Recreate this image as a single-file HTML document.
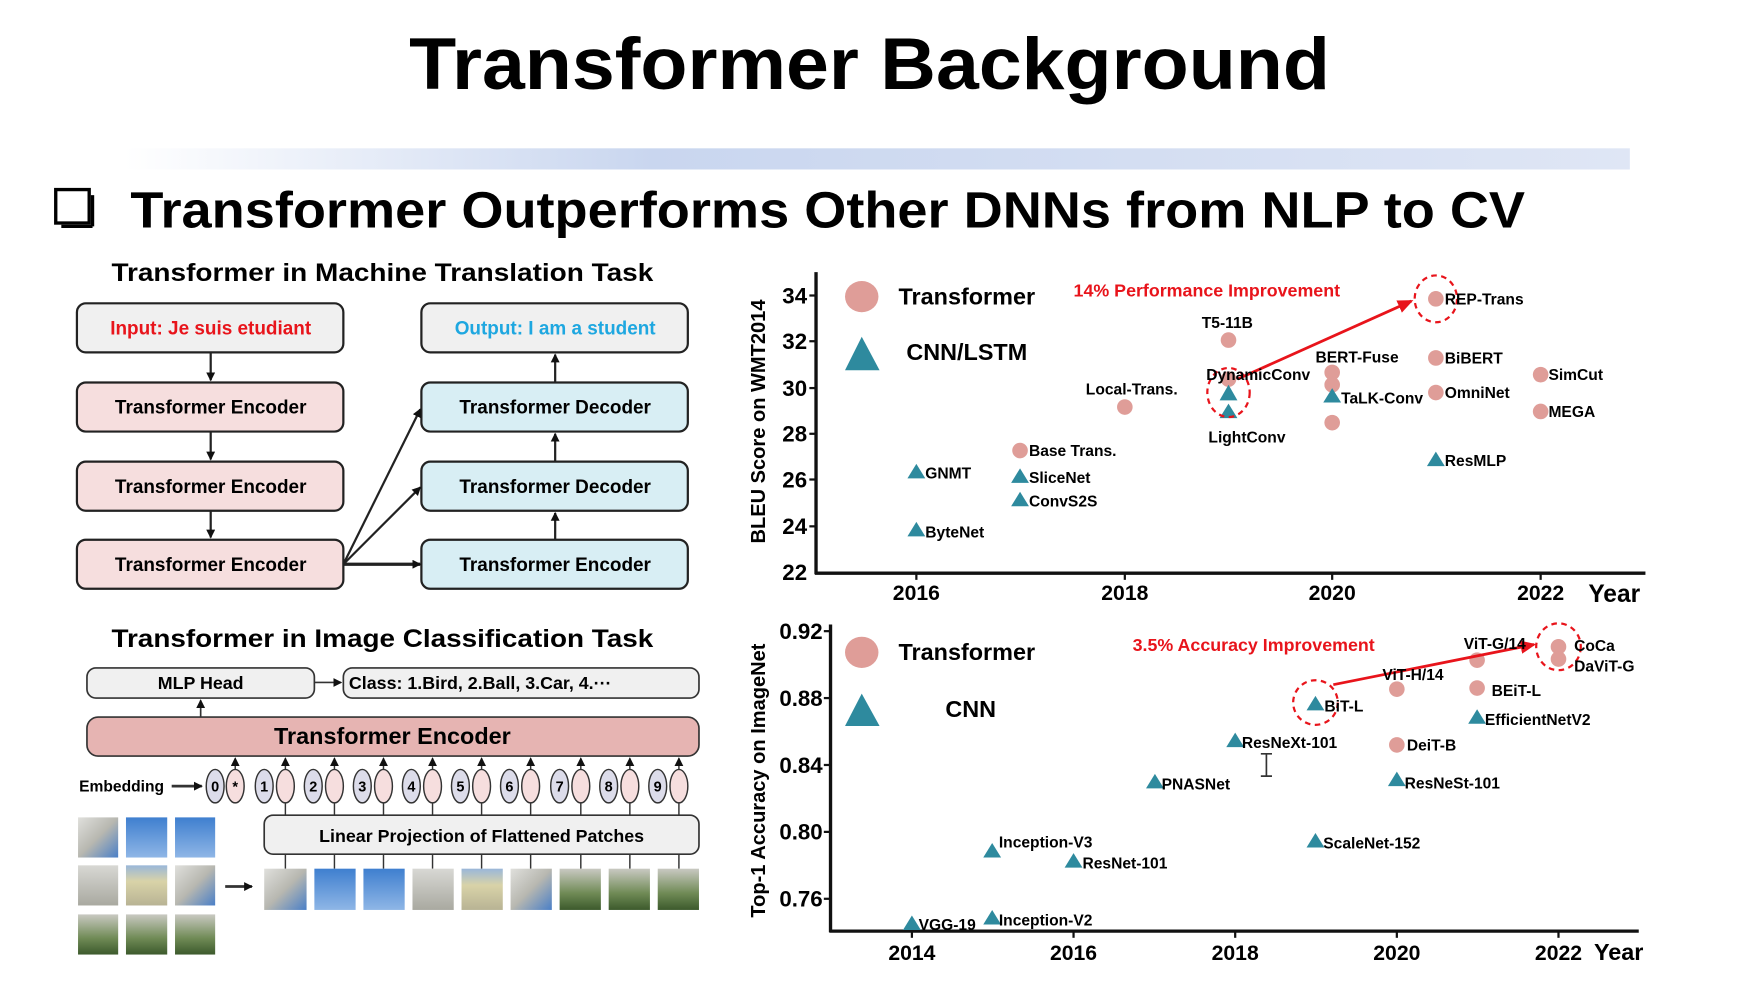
<!DOCTYPE html>
<html><head><meta charset="utf-8"><style>
html,body{margin:0;padding:0;background:#fff;}
svg{display:block;}
text{font-family:"Liberation Sans",sans-serif;font-weight:bold;}
</style></head><body>
<svg width="1748" height="988" viewBox="0 0 1568 886" preserveAspectRatio="none" xmlns="http://www.w3.org/2000/svg">
<defs>
<linearGradient id="bar" x1="0" x2="1" y1="0" y2="0"><stop offset="0" stop-color="#ffffff"/><stop offset="0.35" stop-color="#c9d6ef"/><stop offset="1" stop-color="#dfe6f5"/></linearGradient>
<linearGradient id="sky" x1="0" x2="0" y1="0" y2="1"><stop offset="0" stop-color="#3f7fcf"/><stop offset="1" stop-color="#8fb6e6"/></linearGradient>
<linearGradient id="bld" x1="0" x2="0" y1="0" y2="1"><stop offset="0" stop-color="#d8d8d4"/><stop offset="1" stop-color="#a9a9a0"/></linearGradient>
<linearGradient id="yel" x1="0" x2="0" y1="0" y2="1"><stop offset="0" stop-color="#9ab7d9"/><stop offset="0.4" stop-color="#d9d3a8"/><stop offset="1" stop-color="#b8b394"/></linearGradient>
<linearGradient id="grn" x1="0" x2="0" y1="0" y2="1"><stop offset="0" stop-color="#c9c9c2"/><stop offset="0.6" stop-color="#6f8a55"/><stop offset="1" stop-color="#3c5a2c"/></linearGradient>
<linearGradient id="mix" x1="0" x2="1" y1="0" y2="1"><stop offset="0" stop-color="#e0e0dc"/><stop offset="0.5" stop-color="#b7b7b0"/><stop offset="1" stop-color="#4a7fc7"/></linearGradient>
<marker id="ah" markerWidth="8" markerHeight="8" refX="7" refY="4" orient="auto" markerUnits="userSpaceOnUse"><path d="M0,0 L8,4 L0,8 Z" fill="#111"/></marker>
<marker id="ahr" markerWidth="14" markerHeight="12" refX="12" refY="6" orient="auto" markerUnits="userSpaceOnUse"><path d="M0,0 L14,6 L0,12 Z" fill="#e8141b"/></marker>
</defs>

<text x="780" y="80" font-size="66" text-anchor="middle" textLength="826" lengthAdjust="spacingAndGlyphs">Transformer Background</text>
<rect x="112" y="133" width="1350" height="19" fill="url(#bar)"/>
<rect x="50" y="170" width="30" height="30" fill="none" stroke="#000" stroke-width="3"/>
<line x1="55" y1="203" x2="83" y2="203" stroke="#000" stroke-width="3"/><line x1="83" y1="175" x2="83" y2="203" stroke="#000" stroke-width="3"/>
<text x="117" y="204" font-size="46" textLength="1251" lengthAdjust="spacingAndGlyphs">Transformer Outperforms Other DNNs from NLP to CV</text>

<!-- Machine translation -->
<text x="343" y="252" font-size="22" text-anchor="middle" textLength="486" lengthAdjust="spacingAndGlyphs">Transformer in Machine Translation Task</text>
<g stroke="#222" stroke-width="2">
<rect x="69" y="272" width="239" height="44" rx="8" fill="#f0f0f0"/>
<rect x="378" y="272" width="239" height="44" rx="8" fill="#f0f0f0"/>
<rect x="69" y="343" width="239" height="44" rx="8" fill="#f6dede"/>
<rect x="69" y="414" width="239" height="44" rx="8" fill="#f6dede"/>
<rect x="69" y="484" width="239" height="44" rx="8" fill="#f6dede"/>
<rect x="378" y="343" width="239" height="44" rx="8" fill="#d8eef4"/>
<rect x="378" y="414" width="239" height="44" rx="8" fill="#d8eef4"/>
<rect x="378" y="484" width="239" height="44" rx="8" fill="#d8eef4"/>
<line x1="189" y1="316" x2="189" y2="341" marker-end="url(#ah)"/>
<line x1="189" y1="387" x2="189" y2="412" marker-end="url(#ah)"/>
<line x1="189" y1="458" x2="189" y2="482" marker-end="url(#ah)"/>
<line x1="498" y1="484" x2="498" y2="460" marker-end="url(#ah)"/>
<line x1="498" y1="414" x2="498" y2="389" marker-end="url(#ah)"/>
<line x1="498" y1="343" x2="498" y2="318" marker-end="url(#ah)"/>
<line x1="308" y1="506" x2="377" y2="367" marker-end="url(#ah)"/>
<line x1="308" y1="506" x2="377" y2="437" marker-end="url(#ah)"/>
<line x1="308" y1="506" x2="377" y2="506" stroke-width="3" marker-end="url(#ah)"/>
</g>
<g font-size="17" text-anchor="middle">
<text x="189" y="300" fill="#e8141b">Input: Je suis etudiant</text>
<text x="498" y="300" fill="#1ea7e0">Output: I am a student</text>
<text x="189" y="371">Transformer Encoder</text>
<text x="189" y="442">Transformer Encoder</text>
<text x="189" y="512">Transformer Encoder</text>
<text x="498" y="371">Transformer Decoder</text>
<text x="498" y="442">Transformer Decoder</text>
<text x="498" y="512">Transformer Encoder</text>
</g>

<!-- Image classification -->
<text x="343" y="580" font-size="22" text-anchor="middle" textLength="486" lengthAdjust="spacingAndGlyphs">Transformer in Image Classification Task</text>
<g stroke="#333" stroke-width="1.5">
<rect x="78" y="599" width="204" height="27" rx="8" fill="#f0f0f0"/>
<rect x="308" y="599" width="319" height="27" rx="8" fill="#f0f0f0"/>
<rect x="78" y="643" width="549" height="35" rx="10" fill="#e6b4b2"/>
<rect x="237" y="731" width="390" height="35" rx="8" fill="#f0f0f0"/>
<line x1="282" y1="612" x2="306" y2="612" marker-end="url(#ah)"/>
<line x1="180" y1="643" x2="180" y2="628" marker-end="url(#ah)"/>
<line x1="154" y1="705" x2="181" y2="705" stroke-width="2.5" marker-end="url(#ah)"/>
<line x1="202" y1="795" x2="226" y2="795" stroke-width="2.5" marker-end="url(#ah)"/>
</g>
<text x="180" y="618" font-size="16" text-anchor="middle">MLP Head</text>
<text x="313" y="618" font-size="16">Class: 1.Bird, 2.Ball,  3.Car,  4.···</text>
<text x="352" y="667" font-size="21" text-anchor="middle">Transformer Encoder</text>
<text x="432" y="755" font-size="16" text-anchor="middle">Linear Projection of Flattened Patches</text>
<text x="71" y="710" font-size="14">Embedding</text>

<g stroke="#333" stroke-width="1.3" font-size="13">
<ellipse cx="193" cy="705" rx="8" ry="15" fill="#dcdcea"/><ellipse cx="211" cy="705" rx="8" ry="15" fill="#f6dede"/>
<line x1="211" y1="690" x2="211" y2="680" marker-end="url(#ah)"/>
<ellipse cx="237" cy="705" rx="8" ry="15" fill="#dcdcea"/><ellipse cx="256" cy="705" rx="8" ry="15" fill="#f6dede"/>
<ellipse cx="281" cy="705" rx="8" ry="15" fill="#dcdcea"/><ellipse cx="300" cy="705" rx="8" ry="15" fill="#f6dede"/>
<ellipse cx="325" cy="705" rx="8" ry="15" fill="#dcdcea"/><ellipse cx="344" cy="705" rx="8" ry="15" fill="#f6dede"/>
<ellipse cx="369" cy="705" rx="8" ry="15" fill="#dcdcea"/><ellipse cx="388" cy="705" rx="8" ry="15" fill="#f6dede"/>
<ellipse cx="413" cy="705" rx="8" ry="15" fill="#dcdcea"/><ellipse cx="432" cy="705" rx="8" ry="15" fill="#f6dede"/>
<ellipse cx="457" cy="705" rx="8" ry="15" fill="#dcdcea"/><ellipse cx="476" cy="705" rx="8" ry="15" fill="#f6dede"/>
<ellipse cx="502" cy="705" rx="8" ry="15" fill="#dcdcea"/><ellipse cx="521" cy="705" rx="8" ry="15" fill="#f6dede"/>
<ellipse cx="546" cy="705" rx="8" ry="15" fill="#dcdcea"/><ellipse cx="565" cy="705" rx="8" ry="15" fill="#f6dede"/>
<ellipse cx="590" cy="705" rx="8" ry="15" fill="#dcdcea"/><ellipse cx="609" cy="705" rx="8" ry="15" fill="#f6dede"/>
<g>
<line x1="256" y1="690" x2="256" y2="680" marker-end="url(#ah)"/><line x1="256" y1="720" x2="256" y2="731"/><line x1="256" y1="766" x2="256" y2="779"/>
<line x1="300" y1="690" x2="300" y2="680" marker-end="url(#ah)"/><line x1="300" y1="720" x2="300" y2="731"/><line x1="300" y1="766" x2="300" y2="779"/>
<line x1="344" y1="690" x2="344" y2="680" marker-end="url(#ah)"/><line x1="344" y1="720" x2="344" y2="731"/><line x1="344" y1="766" x2="344" y2="779"/>
<line x1="388" y1="690" x2="388" y2="680" marker-end="url(#ah)"/><line x1="388" y1="720" x2="388" y2="731"/><line x1="388" y1="766" x2="388" y2="779"/>
<line x1="432" y1="690" x2="432" y2="680" marker-end="url(#ah)"/><line x1="432" y1="720" x2="432" y2="731"/><line x1="432" y1="766" x2="432" y2="779"/>
<line x1="476" y1="690" x2="476" y2="680" marker-end="url(#ah)"/><line x1="476" y1="720" x2="476" y2="731"/><line x1="476" y1="766" x2="476" y2="779"/>
<line x1="521" y1="690" x2="521" y2="680" marker-end="url(#ah)"/><line x1="521" y1="720" x2="521" y2="731"/><line x1="521" y1="766" x2="521" y2="779"/>
<line x1="565" y1="690" x2="565" y2="680" marker-end="url(#ah)"/><line x1="565" y1="720" x2="565" y2="731"/><line x1="565" y1="766" x2="565" y2="779"/>
<line x1="609" y1="690" x2="609" y2="680" marker-end="url(#ah)"/><line x1="609" y1="720" x2="609" y2="731"/><line x1="609" y1="766" x2="609" y2="779"/>
</g>
</g>
<g font-size="13" text-anchor="middle">
<text x="193" y="710">0</text><text x="211" y="710">*</text><text x="237" y="710">1</text><text x="281" y="710">2</text><text x="325" y="710">3</text><text x="369" y="710">4</text><text x="413" y="710">5</text><text x="457" y="710">6</text><text x="502" y="710">7</text><text x="546" y="710">8</text><text x="590" y="710">9</text>
</g>
<!-- patches grid -->
<rect x="70" y="733" width="36" height="36" fill="url(#mix)"/><rect x="113" y="733" width="37" height="36" fill="url(#sky)"/><rect x="157" y="733" width="36" height="36" fill="url(#sky)"/>
<rect x="70" y="776" width="36" height="36" fill="url(#bld)"/><rect x="113" y="776" width="37" height="36" fill="url(#yel)"/><rect x="157" y="776" width="36" height="36" fill="url(#mix)"/>
<rect x="70" y="820" width="36" height="36" fill="url(#grn)"/><rect x="113" y="820" width="37" height="36" fill="url(#grn)"/><rect x="157" y="820" width="36" height="36" fill="url(#grn)"/>
<rect x="237" y="779" width="38" height="37" fill="url(#mix)"/><rect x="282" y="779" width="37" height="37" fill="url(#sky)"/><rect x="326" y="779" width="37" height="37" fill="url(#sky)"/>
<rect x="370" y="779" width="37" height="37" fill="url(#bld)"/><rect x="414" y="779" width="37" height="37" fill="url(#yel)"/><rect x="458" y="779" width="37" height="37" fill="url(#mix)"/>
<rect x="502" y="779" width="37" height="37" fill="url(#grn)"/><rect x="546" y="779" width="37" height="37" fill="url(#grn)"/><rect x="590" y="779" width="37" height="37" fill="url(#grn)"/>

<!-- Top chart -->
<g stroke="#111" stroke-width="3">
<line x1="732" y1="244" x2="732" y2="515"/><line x1="731" y1="514" x2="1476" y2="514"/>
</g>
<g stroke="#111" stroke-width="2">
<line x1="726" y1="265" x2="732" y2="265"/><line x1="726" y1="306" x2="732" y2="306"/><line x1="726" y1="348" x2="732" y2="348"/><line x1="726" y1="389" x2="732" y2="389"/><line x1="726" y1="430" x2="732" y2="430"/><line x1="726" y1="472" x2="732" y2="472"/>
<line x1="822" y1="514" x2="822" y2="520"/><line x1="1009" y1="514" x2="1009" y2="520"/><line x1="1195" y1="514" x2="1195" y2="520"/><line x1="1382" y1="514" x2="1382" y2="520"/>
</g>
<g font-size="20" text-anchor="end">
<text x="724" y="272">34</text><text x="724" y="313">32</text><text x="724" y="355">30</text><text x="724" y="396">28</text><text x="724" y="437">26</text><text x="724" y="479">24</text><text x="724" y="520">22</text>
</g>
<g font-size="19" text-anchor="middle">
<text x="822" y="538">2016</text><text x="1009" y="538">2018</text><text x="1195" y="538">2020</text><text x="1382" y="538">2022</text>
</g>
<text x="1448" y="540" font-size="22" text-anchor="middle">Year</text>
<text transform="translate(686,378) rotate(-90)" font-size="18" text-anchor="middle">BLEU Score on WMT2014</text>
<ellipse cx="773" cy="266" rx="15" ry="14" fill="#df9d98"/>
<text x="806" y="273" font-size="21">Transformer</text>
<polygon points="773,302 758,332 789,332" fill="#2e8a9e"/>
<text x="813" y="323" font-size="21">CNN/LSTM</text>
<text x="963" y="266" font-size="16" fill="#e8141b">14% Performance Improvement</text>
<g fill="#df9d98">
<circle cx="1288" cy="268" r="7"/><circle cx="1102" cy="305" r="7"/><circle cx="1195" cy="334" r="7"/><circle cx="1195" cy="345" r="7"/>
<circle cx="1009" cy="365" r="7"/><circle cx="915" cy="404" r="7"/><circle cx="1288" cy="321" r="7"/><circle cx="1288" cy="352" r="7"/>
<circle cx="1382" cy="336" r="7"/><circle cx="1382" cy="369" r="7"/><circle cx="1195" cy="379" r="7"/><circle cx="1102" cy="340" r="7"/>
</g>
<g fill="#2e8a9e">
<polygon points="822,416 814,429 830,429"/><polygon points="915,420 907,433 923,433"/><polygon points="915,441 907,454 923,454"/>
<polygon points="822,468 814,481 830,481"/><polygon points="1102,345 1094,359 1110,359"/><polygon points="1102,362 1094,375 1110,375"/>
<polygon points="1195,348 1187,361 1203,361"/><polygon points="1288,405 1280,418 1296,418"/>
</g>
<g fill="none" stroke="#e8141b" stroke-width="2" stroke-dasharray="5,4">
<ellipse cx="1288" cy="268" rx="19" ry="21"/><ellipse cx="1102" cy="352" rx="19" ry="22"/>
</g>
<line x1="1110" y1="340" x2="1266" y2="270" stroke="#e8141b" stroke-width="2.5" marker-end="url(#ahr)"/>
<g font-size="14">
<text x="1296" y="273">REP-Trans</text><text x="1078" y="294">T5-11B</text><text x="1180" y="325">BERT-Fuse</text><text x="1296" y="326">BiBERT</text>
<text x="1082" y="341">DynamicConv</text><text x="1389" y="341">SimCut</text><text x="974" y="354">Local-Trans.</text><text x="1296" y="357">OmniNet</text>
<text x="1203" y="362">TaLK-Conv</text><text x="1389" y="374">MEGA</text><text x="1084" y="397">LightConv</text><text x="923" y="409">Base Trans.</text>
<text x="1296" y="418">ResMLP</text><text x="830" y="429">GNMT</text><text x="923" y="433">SliceNet</text><text x="923" y="454">ConvS2S</text><text x="830" y="482">ByteNet</text>
</g>

<!-- Bottom chart -->
<g stroke="#111" stroke-width="3">
<line x1="745" y1="560" x2="745" y2="836"/><line x1="744" y1="835" x2="1470" y2="835"/>
</g>
<g stroke="#111" stroke-width="2">
<line x1="739" y1="566" x2="745" y2="566"/><line x1="739" y1="626" x2="745" y2="626"/><line x1="739" y1="686" x2="745" y2="686"/><line x1="739" y1="746" x2="745" y2="746"/><line x1="739" y1="806" x2="745" y2="806"/>
<line x1="818" y1="835" x2="818" y2="841"/><line x1="963" y1="835" x2="963" y2="841"/><line x1="1108" y1="835" x2="1108" y2="841"/><line x1="1253" y1="835" x2="1253" y2="841"/><line x1="1398" y1="835" x2="1398" y2="841"/>
</g>
<g font-size="20" text-anchor="end">
<text x="738" y="573">0.92</text><text x="738" y="633">0.88</text><text x="738" y="693">0.84</text><text x="738" y="753">0.80</text><text x="738" y="813">0.76</text>
</g>
<g font-size="19" text-anchor="middle">
<text x="818" y="861">2014</text><text x="963" y="861">2016</text><text x="1108" y="861">2018</text><text x="1253" y="861">2020</text><text x="1398" y="861">2022</text>
</g>
<text x="1452" y="861" font-size="21" text-anchor="middle">Year</text>
<text transform="translate(686,700) rotate(-90)" font-size="18" text-anchor="middle">Top-1 Accuracy on ImageNet</text>
<ellipse cx="773" cy="585" rx="15" ry="14" fill="#df9d98"/>
<text x="806" y="592" font-size="21">Transformer</text>
<polygon points="773,622 758,651 789,651" fill="#2e8a9e"/>
<text x="848" y="643" font-size="21">CNN</text>
<text x="1016" y="584" font-size="16" fill="#e8141b">3.5% Accuracy Improvement</text>
<g fill="#df9d98">
<circle cx="1325" cy="592" r="7"/><circle cx="1398" cy="580" r="7"/><circle cx="1398" cy="591" r="7"/><circle cx="1253" cy="618" r="7"/>
<circle cx="1325" cy="617" r="7"/><circle cx="1253" cy="668" r="7"/>
</g>
<g fill="#2e8a9e">
<polygon points="1180,624 1172,637 1188,637"/><polygon points="1325,636 1317,649 1333,649"/><polygon points="1108,657 1100,670 1116,670"/>
<polygon points="1036,694 1028,707 1044,707"/><polygon points="1253,692 1245,705 1261,705"/><polygon points="890,756 882,769 898,769"/>
<polygon points="963,765 955,778 971,778"/><polygon points="1180,747 1172,760 1188,760"/><polygon points="818,821 810,834 826,834"/>
<polygon points="890,816 882,829 898,829"/>
</g>
<g fill="none" stroke="#e8141b" stroke-width="2" stroke-dasharray="5,4">
<ellipse cx="1398" cy="580" rx="20" ry="21"/><ellipse cx="1180" cy="630" rx="20" ry="20"/>
</g>
<line x1="1196" y1="614" x2="1376" y2="578" stroke="#e8141b" stroke-width="2.5" marker-end="url(#ahr)"/>
<g font-size="14">
<text x="1313" y="582">ViT-G/14</text><text x="1412" y="584">CoCa</text><text x="1412" y="602">DaViT-G</text><text x="1240" y="610">ViT-H/14</text>
<text x="1338" y="624">BEiT-L</text><text x="1188" y="638">BiT-L</text><text x="1332" y="650">EfficientNetV2</text><text x="1114" y="671">ResNeXt-101</text>
<text x="1262" y="673">DeiT-B</text><text x="1042" y="708">PNASNet</text><text x="1260" y="707">ResNeSt-101</text><text x="896" y="760">Inception-V3</text>
<text x="971" y="779">ResNet-101</text><text x="1187" y="761">ScaleNet-152</text><text x="824" y="834">VGG-19</text><text x="896" y="830">Inception-V2</text>
</g>
<path d="M1131,676 h10 M1136,676 v20 M1131,696 h10" stroke="#333" stroke-width="1.5" fill="none"/>
</svg>
</body></html>
